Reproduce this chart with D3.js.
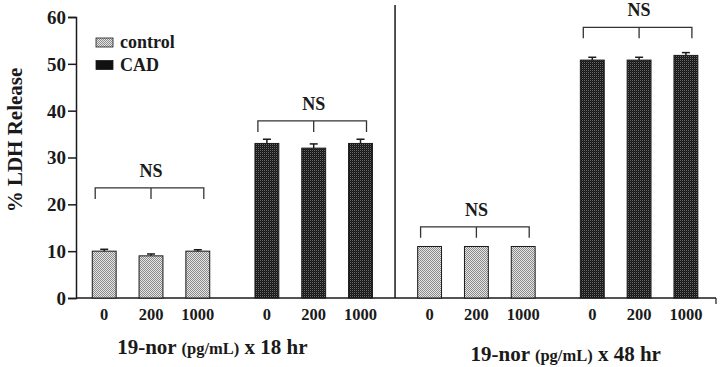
<!DOCTYPE html>
<html>
<head>
<meta charset="utf-8">
<script src="https://cdn.jsdelivr.net/npm/d3@7"></script>
<style>
  body { margin: 0; background: #fff; }
</style>
</head>
<body>
<svg width="720" height="367" font-family="Liberation Serif" font-weight="bold"></svg>
<script>
// data
var groups = ["ctrl18", "cad18", "ctrl48", "cad48"];
var groupType = ["control", "CAD", "control", "CAD"];
var doses = ["0", "200", "1000"];
var ldhCtrl18 = [10, 9, 10];
var ldhCad18 = [33, 32, 33];
var ldhCtrl48 = [11, 11, 11];
var ldhCad48 = [50.8, 50.8, 51.8];
var errCtrl18 = [0.4, 0.4, 0.3];
var errCad18 = [0.9, 0.9, 0.9];
var errCtrl48 = [0, 0, 0];
var errCad48 = [0.6, 0.6, 0.6];
var nsLevel = [23.5, 37.8, 15.2, 57.8];
var yTicks = [0, 10, 20, 30, 40, 50, 60];
var timeLabels = ["18 hr", "48 hr"];

var values = [ldhCtrl18, ldhCad18, ldhCtrl48, ldhCad48];
var errors = [errCtrl18, errCad18, errCtrl48, errCad48];

var rows = [];
groups.forEach(function (g, gi) {
    doses.forEach(function (d, di) {
        rows.push({ group: g, type: groupType[gi], dose: d, value: values[gi][di], err: errors[gi][di] });
    });
});

var svg = d3.select("svg");
var ink = "#1a1a1a";
var serif = "Liberation Serif";

// patterns
var defs = svg.append("defs");
var pCtrl = defs.append("pattern").attr("id", "pCtrl")
    .attr("width", 2).attr("height", 2).attr("patternUnits", "userSpaceOnUse");
pCtrl.append("rect").attr("width", 2).attr("height", 2).attr("fill", "#e6e6e6");
pCtrl.append("rect").attr("width", 1).attr("height", 1).attr("fill", "#8a8a8a");
pCtrl.append("rect").attr("x", 1).attr("y", 1).attr("width", 1).attr("height", 1).attr("fill", "#8a8a8a");
var pCad = defs.append("pattern").attr("id", "pCad")
    .attr("width", 2).attr("height", 2).attr("patternUnits", "userSpaceOnUse");
pCad.append("rect").attr("width", 2).attr("height", 2).attr("fill", "#151515");
pCad.append("rect").attr("width", 1).attr("height", 1).attr("fill", "#6a6a6a");
pCad.append("rect").attr("x", 1).attr("y", 1).attr("width", 1).attr("height", 1).attr("fill", "#2a2a2a");

var fillFor = function (t) { return t == "control" ? "url(#pCtrl)" : "url(#pCad)"; };

// scales
var yScale = d3.scaleLinear().domain([0, 60]).range([298, 17]);

var xGroup = d3.scaleBand()
    .domain(groups)
    .range([80.8, 709.3])
    .paddingInner(0.137)
    .paddingOuter(0);

var xDose = d3.scaleBand()
    .domain(doses)
    .range([0, xGroup.bandwidth()])
    .paddingInner(0.49)
    .paddingOuter(0.245);

var barX = function (d) { return xGroup(d.group) + xDose(d.dose); };
var barMid = function (d) { return barX(d) + xDose.bandwidth() / 2; };

// y axis
var yAxis = d3.axisLeft(yScale).tickValues(yTicks).tickSize(8).tickPadding(2);
var yG = svg.append("g").attr("transform", "translate(76,0)").call(yAxis)
    .attr("font-family", serif).attr("font-size", 19);
yG.select(".domain").attr("stroke", ink).attr("stroke-width", 1.5);
yG.selectAll(".tick line").attr("stroke", ink).attr("stroke-width", 1.5);
yG.selectAll(".tick text").attr("fill", ink).attr("dy", "0.34em");

// x axis line
svg.append("line")
    .attr("x1", 76).attr("x2", 716)
    .attr("y1", yScale(0)).attr("y2", yScale(0))
    .attr("stroke", ink).attr("stroke-width", 1.5);
svg.append("line")
    .attr("x1", 716).attr("x2", 716)
    .attr("y1", yScale(0)).attr("y2", yScale(0) + 6)
    .attr("stroke", ink).attr("stroke-width", 1.2);

// divider between 18 hr and 48 hr
var divX = (xGroup("cad18") + xGroup.bandwidth() + xGroup("ctrl48")) / 2;
svg.append("line")
    .attr("x1", divX).attr("x2", divX)
    .attr("y1", 5).attr("y2", yScale(0))
    .attr("stroke", ink).attr("stroke-width", 1.5);

// bars
svg.append("g").selectAll("rect")
    .data(rows)
    .join("rect")
    .attr("x", barX)
    .attr("y", function (d) { return yScale(d.value); })
    .attr("width", xDose.bandwidth())
    .attr("height", function (d) { return yScale(0) - yScale(d.value); })
    .attr("fill", function (d) { return fillFor(d.type); })
    .attr("stroke", ink)
    .attr("stroke-width", 1);

// error bars (upper only)
var eb = svg.append("g").selectAll("g")
    .data(rows.filter(function (d) { return d.err > 0; }))
    .join("g");
eb.append("line")
    .attr("x1", barMid).attr("x2", barMid)
    .attr("y1", function (d) { return yScale(d.value); })
    .attr("y2", function (d) { return yScale(d.value + d.err); })
    .attr("stroke", ink).attr("stroke-width", 1.5);
eb.append("line")
    .attr("x1", function (d) { return barMid(d) - 4; })
    .attr("x2", function (d) { return barMid(d) + 4; })
    .attr("y1", function (d) { return yScale(d.value + d.err); })
    .attr("y2", function (d) { return yScale(d.value + d.err); })
    .attr("stroke", ink).attr("stroke-width", 1.5);

// NS brackets
groups.forEach(function (g, gi) {
    var left = xGroup(g) + xDose("0") + xDose.bandwidth() / 2 - 9;
    var mid = xGroup(g) + xDose("200") + xDose.bandwidth() / 2;
    var right = xGroup(g) + xDose("1000") + xDose.bandwidth() / 2 + 6;
    var y = yScale(nsLevel[gi]);
    var drop = 11;
    svg.append("path")
        .attr("d", "M" + left + "," + (y + drop) + "V" + y + "H" + right + "V" + (y + drop) +
            "M" + mid + "," + y + "V" + (y + drop))
        .attr("fill", "none")
        .attr("stroke", "#333")
        .attr("stroke-width", 1.3);
    svg.append("text")
        .attr("x", mid)
        .attr("y", y - 11)
        .attr("text-anchor", "middle")
        .attr("fill", ink)
        .attr("font-size", 18)
        .text("NS");
});

// dose labels under the bars
svg.append("g").selectAll("text")
    .data(rows)
    .join("text")
    .attr("x", barMid)
    .attr("y", 320)
    .attr("text-anchor", "middle")
    .attr("fill", ink)
    .attr("font-size", 16.5)
    .text(function (d) { return d.dose; });

// x titles
var titlePos = [
    { x: (xGroup("ctrl18") + xGroup("cad18") + xGroup.bandwidth()) / 2 - 20, y: 354 },
    { x: (xGroup("ctrl48") + xGroup("cad48") + xGroup.bandwidth()) / 2 + 8, y: 361 }
];
timeLabels.forEach(function (t, i) {
    var tx = svg.append("text")
        .attr("x", titlePos[i].x)
        .attr("y", titlePos[i].y)
        .attr("text-anchor", "middle")
        .attr("fill", ink)
        .attr("font-size", 21);
    tx.append("tspan").text("19-nor ");
    tx.append("tspan").attr("font-size", 16.5).text("(pg/mL)");
    tx.append("tspan").text(" x " + t);
});

// y title
svg.append("text")
    .attr("transform", "translate(22," + 140 + ") rotate(-90)")
    .attr("text-anchor", "middle")
    .attr("fill", ink)
    .attr("font-size", 21)
    .text("% LDH Release");

// legend
var legend = svg.append("g");
var legendItems = ["control", "CAD"];
legendItems.forEach(function (name, i) {
    var ly = 38 + i * 22.5;
    legend.append("rect")
        .attr("x", 96).attr("y", ly)
        .attr("width", 17).attr("height", 9)
        .attr("fill", name == "control" ? "url(#pCtrl)" : "#111")
        .attr("stroke", ink).attr("stroke-width", 0.8);
    legend.append("text")
        .attr("x", 120).attr("y", ly + 10)
        .attr("fill", ink)
        .attr("font-size", 18)
        .text(name);
});
</script>
</body>
</html>
